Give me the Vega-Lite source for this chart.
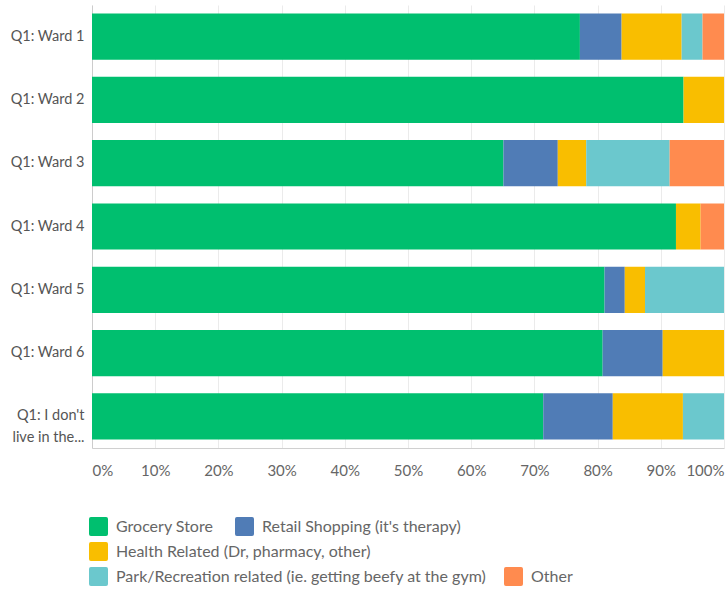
{
  "$schema": "https://vega.github.io/schema/vega-lite/v6.json",
  "autosize": {"type": "none"},
  "padding": {"left": 92, "top": 5, "right": 1, "bottom": 142},
  "width": 632,
  "height": 443,
  "background": "white",
  "config": {
    "view": {"stroke": null},
    "font": "Lato",
    "legend": {
      "labelFont": "Lato",
      "labelFontSize": 16,
      "labelColor": "#666666",
      "labelLimit": 1000,
      "symbolType": "M-0.8,-1H0.8Q1,-1 1,-0.8V0.8Q1,1 0.8,1H-0.8Q-1,1 -1,0.8V-0.8Q-1,-1 -0.8,-1Z",
      "symbolSize": 361,
      "symbolStrokeWidth": 0,
      "symbolOpacity": 1,
      "labelOffset": 8,
      "title": null
    }
  },
  "data": {
    "values": [
      {"ward": "Q1: Ward 1", "category": "Grocery Store", "pct": 77.2},
      {"ward": "Q1: Ward 1", "category": "Retail Shopping (it's therapy)", "pct": 6.6},
      {"ward": "Q1: Ward 1", "category": "Health Related (Dr, pharmacy, other)", "pct": 9.5},
      {"ward": "Q1: Ward 1", "category": "Park/Recreation related (ie. getting beefy at the gym)", "pct": 3.3},
      {"ward": "Q1: Ward 1", "category": "Other", "pct": 3.4},
      {"ward": "Q1: Ward 2", "category": "Grocery Store", "pct": 93.6},
      {"ward": "Q1: Ward 2", "category": "Health Related (Dr, pharmacy, other)", "pct": 6.4},
      {"ward": "Q1: Ward 3", "category": "Grocery Store", "pct": 65.1},
      {"ward": "Q1: Ward 3", "category": "Retail Shopping (it's therapy)", "pct": 8.6},
      {"ward": "Q1: Ward 3", "category": "Health Related (Dr, pharmacy, other)", "pct": 4.5},
      {"ward": "Q1: Ward 3", "category": "Park/Recreation related (ie. getting beefy at the gym)", "pct": 13.2},
      {"ward": "Q1: Ward 3", "category": "Other", "pct": 8.6},
      {"ward": "Q1: Ward 4", "category": "Grocery Store", "pct": 92.4},
      {"ward": "Q1: Ward 4", "category": "Health Related (Dr, pharmacy, other)", "pct": 3.9},
      {"ward": "Q1: Ward 4", "category": "Other", "pct": 3.7},
      {"ward": "Q1: Ward 5", "category": "Grocery Store", "pct": 81.1},
      {"ward": "Q1: Ward 5", "category": "Retail Shopping (it's therapy)", "pct": 3.2},
      {"ward": "Q1: Ward 5", "category": "Health Related (Dr, pharmacy, other)", "pct": 3.2},
      {"ward": "Q1: Ward 5", "category": "Park/Recreation related (ie. getting beefy at the gym)", "pct": 12.5},
      {"ward": "Q1: Ward 6", "category": "Grocery Store", "pct": 80.8},
      {"ward": "Q1: Ward 6", "category": "Retail Shopping (it's therapy)", "pct": 9.5},
      {"ward": "Q1: Ward 6", "category": "Health Related (Dr, pharmacy, other)", "pct": 9.7},
      {"ward": "Q1: I don't live in the...", "category": "Grocery Store", "pct": 71.4},
      {"ward": "Q1: I don't live in the...", "category": "Retail Shopping (it's therapy)", "pct": 11.0},
      {"ward": "Q1: I don't live in the...", "category": "Health Related (Dr, pharmacy, other)", "pct": 11.1},
      {"ward": "Q1: I don't live in the...", "category": "Park/Recreation related (ie. getting beefy at the gym)", "pct": 6.5}
    ]
  },
  "transform": [
    {"stack": "pct", "groupby": ["ward"], "as": ["x0", "x1"]}
  ],
  "encoding": {
    "y": {
      "field": "ward",
      "type": "nominal",
      "sort": null,
      "scale": {"paddingInner": 0.27, "paddingOuter": 0.135},
      "axis": {
        "title": null,
        "ticks": false,
        "labelPadding": 8,
        "labelFont": "Lato",
        "labelFontSize": 14.5,
        "labelColor": "#555555",
        "labelLineHeight": 22,
        "domainColor": "#cccccc",
        "labelExpr": "datum.label == \"Q1: I don't live in the...\" ? [\"Q1: I don't\", \"live in the...\"] : datum.label"
      }
    },
    "x": {
      "field": "x0",
      "type": "quantitative",
      "scale": {"domain": [0, 100], "nice": false},
      "axis": {
        "title": null,
        "values": [0, 10, 20, 30, 40, 50, 60, 70, 80, 90, 100],
        "labelExpr": "datum.value + '%'",
        "ticks": false,
        "labelPadding": 15,
        "labelFlush": true,
        "labelFont": "Lato",
        "labelFontSize": 15,
        "labelColor": "#666666",
        "domainColor": "#d0d0d0",
        "gridColor": "#ebebeb",
        "grid": true
      }
    },
    "x2": {"field": "x1"}
  },
  "layer": [
    {
      "transform": [{"filter": {"field": "category", "oneOf": ["Grocery Store", "Retail Shopping (it's therapy)"]}}],
      "mark": {"type": "bar"},
      "encoding": {
        "color": {
          "field": "category",
          "type": "nominal",
          "scale": {"domain": ["Grocery Store", "Retail Shopping (it's therapy)"], "range": ["#00BF6F", "#507CB6"]},
          "legend": {"orient": "none", "legendX": -3, "legendY": 512, "direction": "horizontal", "columnPadding": 21, "title": null}
        }
      }
    },
    {
      "transform": [{"filter": {"field": "category", "oneOf": ["Health Related (Dr, pharmacy, other)"]}}],
      "mark": {"type": "bar"},
      "encoding": {
        "color": {
          "field": "category",
          "type": "nominal",
          "scale": {"domain": ["Health Related (Dr, pharmacy, other)"], "range": ["#F9BE00"]},
          "legend": {"orient": "none", "legendX": -3, "legendY": 537, "direction": "horizontal", "title": null}
        }
      }
    },
    {
      "transform": [{"filter": {"field": "category", "oneOf": ["Park/Recreation related (ie. getting beefy at the gym)", "Other"]}}],
      "mark": {"type": "bar"},
      "encoding": {
        "color": {
          "field": "category",
          "type": "nominal",
          "scale": {"domain": ["Park/Recreation related (ie. getting beefy at the gym)", "Other"], "range": ["#6BC8CD", "#FF8B4F"]},
          "legend": {"orient": "none", "legendX": -3, "legendY": 562, "direction": "horizontal", "columnPadding": 17, "title": null}
        }
      }
    }
  ],
  "resolve": {"scale": {"color": "independent"}, "legend": {"color": "independent"}}
}
